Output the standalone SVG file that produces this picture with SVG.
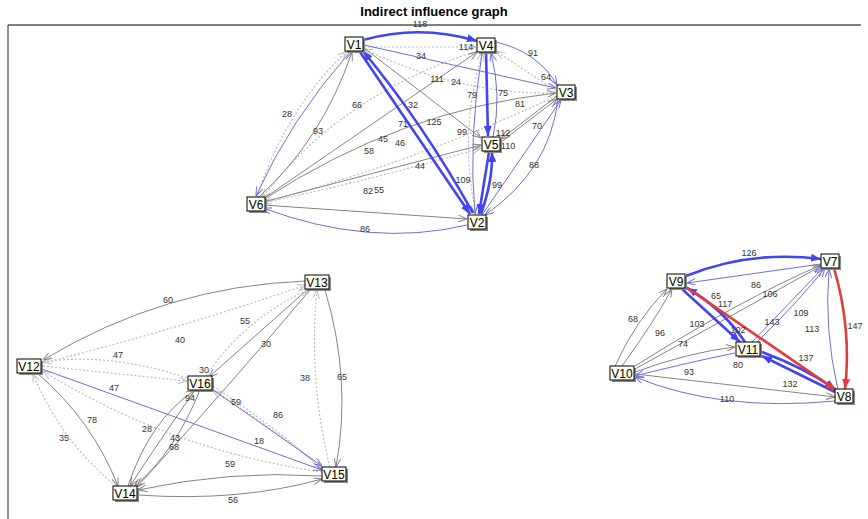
<svg xmlns="http://www.w3.org/2000/svg" width="868" height="519" viewBox="0 0 868 519">
<style>
.e{fill:none}
.g{stroke:#858585;stroke-width:1}
.b{stroke:#7070d8;stroke-width:1}
.bb{stroke:#4444f2;stroke-width:2.6}
.r{stroke:#e43a3a;stroke-width:2.6}
.d{stroke:#bcbcbc;stroke-width:1.2;stroke-dasharray:2 2}
.l{font-family:"Liberation Sans",Arial,sans-serif;font-size:9px;fill:#333}
.n rect.s{fill:#8a8a8a}
.n rect.f{fill:#fffff2;stroke:#000;stroke-width:1}
.n text{font-family:"Liberation Sans",Arial,sans-serif;font-size:12px;fill:#000;text-anchor:middle}
</style>
<defs>
<marker id="ag" markerUnits="userSpaceOnUse" markerWidth="9" markerHeight="7" refX="9" refY="3.5" orient="auto"><path d="M0,0 L9,3.5 L0,7" fill="none" stroke="#858585"/></marker>
<marker id="ab" markerUnits="userSpaceOnUse" markerWidth="9" markerHeight="7" refX="9" refY="3.5" orient="auto"><path d="M0,0 L9,3.5 L0,7" fill="none" stroke="#7070d8"/></marker>
<marker id="abb" markerUnits="userSpaceOnUse" markerWidth="10" markerHeight="8" refX="10" refY="4" orient="auto"><path d="M0,0 L10,4 L0,8 z" fill="#4444f2"/></marker>
<marker id="ar" markerUnits="userSpaceOnUse" markerWidth="10" markerHeight="8" refX="10" refY="4" orient="auto"><path d="M0,0 L10,4 L0,8 z" fill="#e43a3a"/></marker>
<marker id="ad" markerUnits="userSpaceOnUse" markerWidth="9" markerHeight="7" refX="9" refY="3.5" orient="auto"><path d="M0,0 L9,3.5 L0,7" fill="none" stroke="#bcbcbc"/></marker>
</defs>
<rect width="868" height="519" fill="#ffffff"/>
<text x="434" y="16" text-anchor="middle" font-family="'Liberation Sans',Arial,sans-serif" font-size="13" font-weight="bold">Indirect influence graph</text>
<path d="M8,25 H861 M8,25 V519" stroke="#555" stroke-width="1.3" fill="none"/>
<g id="connectors">
<path class="e d" marker-end="url(#ad)" d="M364,47 L476,47"/>
<path class="e d" marker-end="url(#ad)" d="M556,91 L496,51"/>
<path class="e d" marker-end="url(#ad)" d="M477,51 Q340,95 262,198"/>
<path class="e d" marker-end="url(#ad)" d="M556,93 Q460,95 364,49"/>
<path class="e d" marker-end="url(#ad)" d="M263,203 Q380,178 481,148"/>
<path class="e d" marker-end="url(#ad)" d="M476,214 Q458,130 483,52"/>
<path class="e d" marker-end="url(#ad)" d="M556,96 Q420,160 263,203"/>
<path class="e d" marker-end="url(#ad)" d="M257,197 Q285,110 347,51"/>
<path class="e g" marker-end="url(#ag)" d="M263,199 L477,52"/>
<path class="e g" marker-end="url(#ag)" d="M263,200 Q400,110 556,93"/>
<path class="e g" marker-end="url(#ag)" d="M263,202 L481,145"/>
<path class="e g" marker-end="url(#ag)" d="M263,205 L467,219"/>
<path class="e g" marker-end="url(#ag)" d="M259,197 Q322,140 352,52"/>
<path class="e g" marker-end="url(#ag)" d="M557,96 L501,139"/>
<path class="e g" marker-end="url(#ag)" d="M501,142 L557,99"/>
<path class="e g" marker-end="url(#ag)" d="M364,48 L481,138"/>
<path class="e b" marker-end="url(#ab)" d="M364,45 L556,88"/>
<path class="e b" marker-end="url(#ab)" d="M496,42 Q538,52 557,85"/>
<path class="e b" marker-end="url(#ab)" d="M493,137 Q502,95 491,53"/>
<path class="e b" marker-end="url(#ab)" d="M482,53 Q468,140 475,214"/>
<path class="e b" marker-end="url(#ab)" d="M467,225 Q370,248 263,208"/>
<path class="e b" marker-end="url(#ab)" d="M350,52 Q290,120 256,196"/>
<path class="e b" marker-end="url(#ab)" d="M558,99 Q550,170 485,215"/>
<path class="e b" marker-end="url(#ab)" d="M482,215 L561,100"/>
<path class="e bb" marker-end="url(#abb)" d="M363,40 Q420,24 477,41"/>
<path class="e bb" marker-end="url(#abb)" d="M360,52 L470,214"/>
<path class="e bb" marker-end="url(#abb)" d="M473,213 Q422,122 363,51"/>
<path class="e bb" marker-end="url(#abb)" d="M486,52 L488,136"/>
<path class="e bb" marker-end="url(#abb)" d="M489,152 L479,214"/>
<path class="e bb" marker-end="url(#abb)" d="M481,214 Q493,180 492,152"/>
<path class="e d" marker-end="url(#ad)" d="M43,363 Q175,330 306,285"/>
<path class="e d" marker-end="url(#ad)" d="M43,366 L187,381"/>
<path class="e d" marker-end="url(#ad)" d="M187,378 Q110,352 43,362"/>
<path class="e d" marker-end="url(#ad)" d="M322,468 Q262,420 213,391"/>
<path class="e d" marker-end="url(#ad)" d="M116,486 Q60,440 33,374"/>
<path class="e d" marker-end="url(#ad)" d="M322,472 Q170,450 43,371"/>
<path class="e d" marker-end="url(#ad)" d="M206,376 Q245,318 310,289"/>
<path class="e d" marker-end="url(#ad)" d="M330,467 Q308,380 317,290"/>
<path class="e d" marker-end="url(#ad)" d="M213,386 Q280,430 322,470"/>
<path class="e g" marker-end="url(#ag)" d="M306,281 Q166,286 43,360"/>
<path class="e g" marker-end="url(#ag)" d="M37,373 Q92,420 118,486"/>
<path class="e g" marker-end="url(#ag)" d="M195,390 Q160,440 130,486"/>
<path class="e g" marker-end="url(#ag)" d="M200,390 Q175,452 134,487"/>
<path class="e g" marker-end="url(#ag)" d="M310,290 Q230,385 137,487"/>
<path class="e g" marker-end="url(#ag)" d="M308,289 L209,377"/>
<path class="e g" marker-end="url(#ag)" d="M325,290 Q352,380 336,467"/>
<path class="e g" marker-end="url(#ag)" d="M322,476 Q230,470 138,490"/>
<path class="e g" marker-end="url(#ag)" d="M138,495 Q240,502 322,479"/>
<path class="e g" marker-end="url(#ag)" d="M128,486 Q150,420 195,390"/>
<path class="e b" marker-end="url(#ab)" d="M42,369 L322,470"/>
<path class="e b" marker-end="url(#ab)" d="M212,389 L322,466"/>
<path class="e g" marker-end="url(#ag)" d="M615,366 Q636,320 667,289"/>
<path class="e g" marker-end="url(#ag)" d="M622,366 Q652,325 672,289"/>
<path class="e g" marker-end="url(#ag)" d="M635,369 L821,266"/>
<path class="e g" marker-end="url(#ag)" d="M635,366 Q740,300 821,265"/>
<path class="e g" marker-end="url(#ag)" d="M635,372 Q690,352 735,347"/>
<path class="e g" marker-end="url(#ag)" d="M635,374 L835,397"/>
<path class="e b" marker-end="url(#ab)" d="M821,264 L687,283"/>
<path class="e b" marker-end="url(#ab)" d="M838,390 Q824,330 829,269"/>
<path class="e b" marker-end="url(#ab)" d="M752,342 L823,268"/>
<path class="e b" marker-end="url(#ab)" d="M757,342 Q800,300 825,268"/>
<path class="e b" marker-end="url(#ab)" d="M835,401 Q720,412 635,377"/>
<path class="e b" marker-end="url(#ab)" d="M735,353 Q690,362 635,376"/>
<path class="e bb" marker-end="url(#abb)" d="M686,276 Q750,250 821,259"/>
<path class="e bb" marker-end="url(#abb)" d="M682,289 L740,342"/>
<path class="e bb" marker-end="url(#abb)" d="M745,342 Q722,308 687,288"/>
<path class="e bb" marker-end="url(#abb)" d="M835,392 L762,356"/>
<path class="e bb" marker-end="url(#abb)" d="M762,352 Q805,368 835,389"/>
<path class="e r" marker-end="url(#ar)" d="M686,287 L836,390"/>
<path class="e r" marker-end="url(#ar)" d="M834,268 Q852,330 845,389"/>
</g>
<g id="labels">
<text class="l" x="420" y="27" text-anchor="middle">118</text>
<text class="l" x="466" y="50" text-anchor="middle">114</text>
<text class="l" x="421" y="59" text-anchor="middle">34</text>
<text class="l" x="533" y="56" text-anchor="middle">91</text>
<text class="l" x="437" y="82" text-anchor="middle">111</text>
<text class="l" x="456" y="85" text-anchor="middle">24</text>
<text class="l" x="546" y="80" text-anchor="middle">64</text>
<text class="l" x="503" y="96" text-anchor="middle">75</text>
<text class="l" x="472" y="98" text-anchor="middle">79</text>
<text class="l" x="520" y="107" text-anchor="middle">81</text>
<text class="l" x="357" y="108" text-anchor="middle">66</text>
<text class="l" x="413" y="108" text-anchor="middle">32</text>
<text class="l" x="287" y="117" text-anchor="middle">28</text>
<text class="l" x="318" y="134" text-anchor="middle">93</text>
<text class="l" x="403" y="127" text-anchor="middle">71</text>
<text class="l" x="434" y="125" text-anchor="middle">125</text>
<text class="l" x="462" y="135" text-anchor="middle">99</text>
<text class="l" x="503" y="136" text-anchor="middle">112</text>
<text class="l" x="537" y="129" text-anchor="middle">70</text>
<text class="l" x="508" y="149" text-anchor="middle">110</text>
<text class="l" x="383" y="142" text-anchor="middle">45</text>
<text class="l" x="400" y="146" text-anchor="middle">46</text>
<text class="l" x="369" y="154" text-anchor="middle">58</text>
<text class="l" x="420" y="169" text-anchor="middle">44</text>
<text class="l" x="368" y="194" text-anchor="middle">82</text>
<text class="l" x="379" y="193" text-anchor="middle">55</text>
<text class="l" x="463" y="183" text-anchor="middle">109</text>
<text class="l" x="497" y="188" text-anchor="middle">99</text>
<text class="l" x="534" y="168" text-anchor="middle">88</text>
<text class="l" x="365" y="232" text-anchor="middle">86</text>
<text class="l" x="168" y="303" text-anchor="middle">60</text>
<text class="l" x="245" y="324" text-anchor="middle">55</text>
<text class="l" x="180" y="343" text-anchor="middle">40</text>
<text class="l" x="118" y="358" text-anchor="middle">47</text>
<text class="l" x="266" y="347" text-anchor="middle">30</text>
<text class="l" x="305" y="381" text-anchor="middle">38</text>
<text class="l" x="342" y="380" text-anchor="middle">65</text>
<text class="l" x="204" y="373" text-anchor="middle">30</text>
<text class="l" x="114" y="391" text-anchor="middle">47</text>
<text class="l" x="190" y="401" text-anchor="middle">94</text>
<text class="l" x="236" y="405" text-anchor="middle">59</text>
<text class="l" x="92" y="423" text-anchor="middle">78</text>
<text class="l" x="278" y="418" text-anchor="middle">86</text>
<text class="l" x="147" y="432" text-anchor="middle">28</text>
<text class="l" x="175" y="441" text-anchor="middle">43</text>
<text class="l" x="174" y="450" text-anchor="middle">68</text>
<text class="l" x="259" y="444" text-anchor="middle">18</text>
<text class="l" x="64" y="441" text-anchor="middle">35</text>
<text class="l" x="230" y="467" text-anchor="middle">59</text>
<text class="l" x="233" y="503" text-anchor="middle">56</text>
<text class="l" x="749" y="256" text-anchor="middle">126</text>
<text class="l" x="756" y="288" text-anchor="middle">86</text>
<text class="l" x="716" y="299" text-anchor="middle">65</text>
<text class="l" x="725" y="307" text-anchor="middle">117</text>
<text class="l" x="770" y="297" text-anchor="middle">106</text>
<text class="l" x="697" y="327" text-anchor="middle">103</text>
<text class="l" x="738" y="333" text-anchor="middle">102</text>
<text class="l" x="772" y="325" text-anchor="middle">143</text>
<text class="l" x="801" y="316" text-anchor="middle">109</text>
<text class="l" x="633" y="322" text-anchor="middle">68</text>
<text class="l" x="660" y="336" text-anchor="middle">96</text>
<text class="l" x="812" y="332" text-anchor="middle">113</text>
<text class="l" x="855" y="329" text-anchor="middle">147</text>
<text class="l" x="683" y="347" text-anchor="middle">74</text>
<text class="l" x="738" y="368" text-anchor="middle">80</text>
<text class="l" x="806" y="361" text-anchor="middle">137</text>
<text class="l" x="689" y="375" text-anchor="middle">93</text>
<text class="l" x="790" y="387" text-anchor="middle">132</text>
<text class="l" x="727" y="402" text-anchor="middle">110</text>
</g>
<g id="V1" class="n"><rect class="s" x="347" y="39" width="18" height="14"/><rect class="f" x="345" y="37" width="18" height="14"/><text x="354" y="48.5">V1</text></g>
<g id="V4" class="n"><rect class="s" x="479" y="40" width="18" height="14"/><rect class="f" x="477" y="38" width="18" height="14"/><text x="486" y="49.5">V4</text></g>
<g id="V3" class="n"><rect class="s" x="559" y="87" width="18" height="14"/><rect class="f" x="557" y="85" width="18" height="14"/><text x="566" y="96.5">V3</text></g>
<g id="V5" class="n"><rect class="s" x="484" y="139" width="18" height="14"/><rect class="f" x="482" y="137" width="18" height="14"/><text x="491" y="148.5">V5</text></g>
<g id="V2" class="n"><rect class="s" x="470" y="217" width="18" height="14"/><rect class="f" x="468" y="215" width="18" height="14"/><text x="477" y="226.5">V2</text></g>
<g id="V6" class="n"><rect class="s" x="249" y="199" width="18" height="14"/><rect class="f" x="247" y="197" width="18" height="14"/><text x="256" y="208.5">V6</text></g>
<g id="V13" class="n"><rect class="s" x="307" y="277" width="24" height="14"/><rect class="f" x="305" y="275" width="24" height="14"/><text x="317" y="286.5">V13</text></g>
<g id="V12" class="n"><rect class="s" x="19" y="361" width="24" height="14"/><rect class="f" x="17" y="359" width="24" height="14"/><text x="29" y="370.5">V12</text></g>
<g id="V16" class="n"><rect class="s" x="190" y="378" width="24" height="14"/><rect class="f" x="188" y="376" width="24" height="14"/><text x="200" y="387.5">V16</text></g>
<g id="V14" class="n"><rect class="s" x="115" y="488" width="24" height="14"/><rect class="f" x="113" y="486" width="24" height="14"/><text x="125" y="497.5">V14</text></g>
<g id="V15" class="n"><rect class="s" x="324" y="469" width="24" height="14"/><rect class="f" x="322" y="467" width="24" height="14"/><text x="334" y="478.5">V15</text></g>
<g id="V9" class="n"><rect class="s" x="669" y="276" width="18" height="14"/><rect class="f" x="667" y="274" width="18" height="14"/><text x="676" y="285.5">V9</text></g>
<g id="V7" class="n"><rect class="s" x="823" y="256" width="18" height="14"/><rect class="f" x="821" y="254" width="18" height="14"/><text x="830" y="265.5">V7</text></g>
<g id="V10" class="n"><rect class="s" x="612" y="368" width="24" height="14"/><rect class="f" x="610" y="366" width="24" height="14"/><text x="622" y="377.5">V10</text></g>
<g id="V11" class="n"><rect class="s" x="738" y="344" width="24" height="14"/><rect class="f" x="736" y="342" width="24" height="14"/><text x="748" y="353.5">V11</text></g>
<g id="V8" class="n"><rect class="s" x="837" y="391" width="18" height="14"/><rect class="f" x="835" y="389" width="18" height="14"/><text x="844" y="400.5">V8</text></g>
</svg>
